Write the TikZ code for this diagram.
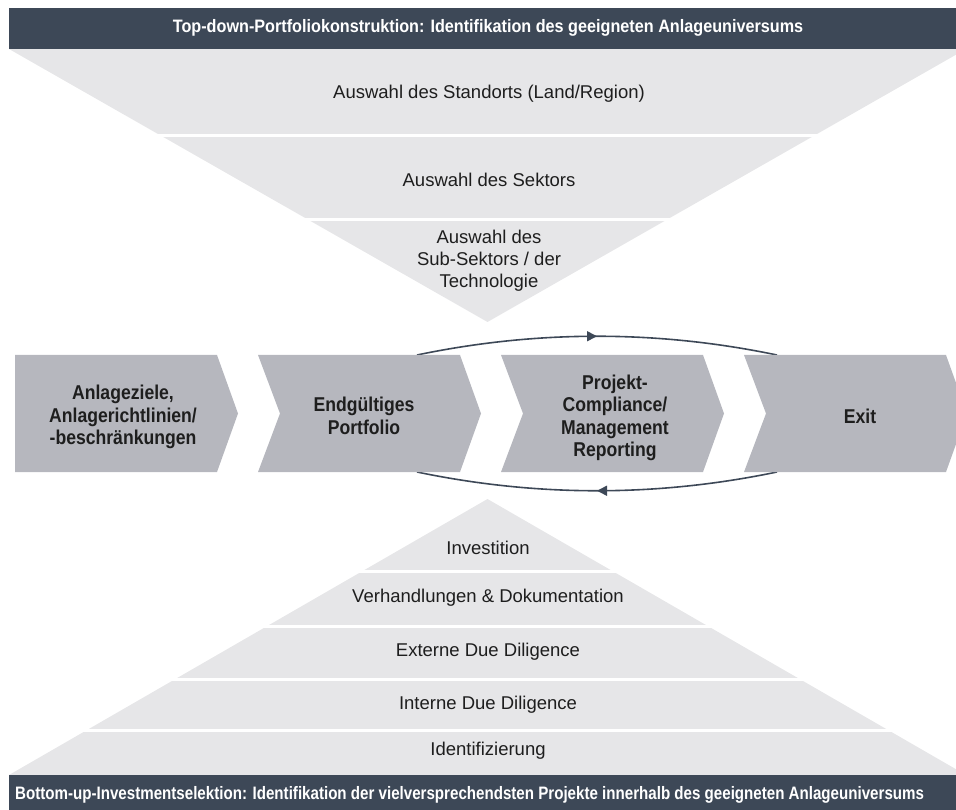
\documentclass[tikz,border=0pt]{standalone}
\usepackage{fontspec}
\setmainfont{Liberation Sans}
\newfontfamily\barfont[FakeStretch=0.9]{Liberation Sans}
\newfontfamily\longbarfont[FakeStretch=0.84]{Liberation Sans}
\newfontfamily\chevfont[FakeStretch=0.88]{Liberation Sans}
\usetikzlibrary{arrows.meta,decorations.markings}

\definecolor{slate}{HTML}{3D4857}
\definecolor{funnel}{HTML}{E6E6E8}
\definecolor{chevgrey}{HTML}{B6B7BE}
\definecolor{ink}{HTML}{1E1E1E}

\tikzset{
    titletext/.style={text=white, inner sep=0pt, font=\barfont\bfseries\fontsize{18}{22}\selectfont},
    layer/.style={text=ink, align=center, font=\fontsize{18.5}{22}\selectfont},
    chevtext/.style={text=ink, align=center, font=\chevfont\bfseries\fontsize{20}{22.5}\selectfont},
    cyclearc/.style={draw=slate, line width=1.6pt, postaction={decorate},
        decoration={markings, mark=at position 0.5 with {\arrow{Triangle[length=10pt,width=10pt]}}}}
}

\begin{document}
\begin{tikzpicture}[x=1pt, y=-1pt]
    \useasboundingbox (0,0) rectangle (956,810);
    \clip (0,0) rectangle (956,810);

    % funnels
    \fill[funnel] (9,49) -- (966,49) -- (487.5,322) -- cycle;
    \fill[funnel] (9,775) -- (966,775) -- (487.5,499) -- cycle;
    \foreach \y in {136,220,571,626,679,730}
        \draw[white, line width=3pt] (0,\y) -- (956,\y);

    % bars
    \fill[slate] (9,8) rectangle (966,49);
    \fill[slate] (9,775) rectangle (966,815);
    \node[titletext] (topdown) at (488,28) {Top-down-Portfoliokonstruktion: Identifikation des geeigneten Anlageuniversums};
    \node[titletext, anchor=west, font=\longbarfont\bfseries\fontsize{18}{22}\selectfont] (bottomup) at (15,795) {Bottom-up-Investmentselektion: Identifikation der vielversprechendsten Projekte innerhalb des geeigneten Anlageuniversums};

    \node[layer] (region) at (489,94) {Auswahl des Standorts (Land/Region)};
    \node[layer] (sector) at (489,180) {Auswahl des Sektors};
    \node[layer] (subsector) at (489,261) {Auswahl des\\Sub-Sektors / der\\Technologie};

    \node[layer] (invest) at (488,548) {Investition};
    \node[layer] (negotiate) at (488,598) {Verhandlungen \& Dokumentation};
    \node[layer] (external) at (488,652) {Externe Due Diligence};
    \node[layer] (internal) at (488,705) {Interne Due Diligence};
    \node[layer] (identify) at (488,751) {Identifizierung};

    % cycle
    \coordinate (outN) at (417,355);
    \coordinate (backN) at (777,355);
    \coordinate (outS) at (417,472);
    \coordinate (backS) at (777,472);
    \draw[cyclearc] (outN) .. controls (537,330) and (657,330) .. (backN);
    \draw[cyclearc] (backS) .. controls (657,497) and (537,497) .. (outS);

    % chevrons
    \foreach \x/\n in {15/0, 258/22, 501/22, 744/22}
        \fill[chevgrey] (\x,355) -- ++(202,0) -- ++(21,58.5) -- ++(-21,58.5) -- ++(-202,0) -- ++(\n,-58.5) -- cycle;

    \node[chevtext] (goals) at (123,417) {Anlageziele,\\Anlagerichtlinien/\\-beschränkungen};
    \node[chevtext] (portfolio) at (364,416) {Endgültiges\\Portfolio};
    \node[chevtext] (compliance) at (615,418) {Projekt-\\Compliance/\\Management\\Reporting};
    \node[chevtext] (exit) at (860,416) {Exit};
\end{tikzpicture}
\end{document}
